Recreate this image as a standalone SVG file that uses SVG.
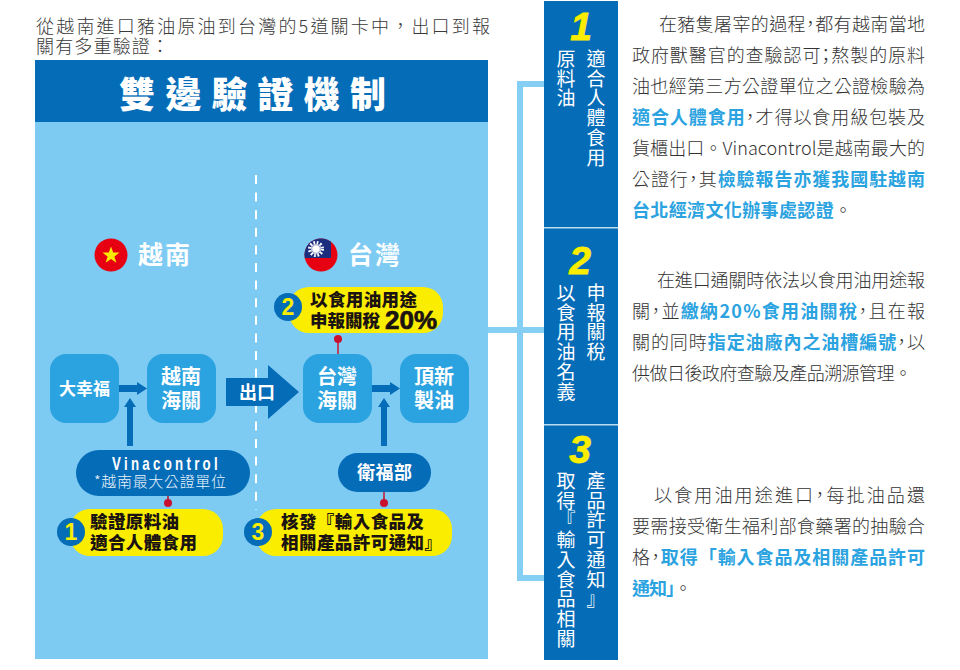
<svg xmlns="http://www.w3.org/2000/svg" width="960" height="670" viewBox="0 0 960 670">
<style>
text{font-family:"Noto Sans CJK TC","Noto Sans",sans-serif}
.lead{font-size:18px;font-weight:300;fill:#3a3a3a}
.body{font-size:18px;font-weight:300;fill:#333}
.hl{font-weight:700;fill:#2ba3e0}
.p{font-feature-settings:"palt"}
.jp{font-family:"Noto Sans CJK JP",sans-serif}
.w{fill:#fff;font-weight:700}
.k{fill:#1a1311;font-weight:900;font-size:17.5px}
.num{font-family:"Liberation Sans",sans-serif;font-weight:700;fill:#faed00;text-anchor:middle}
.big{font-family:"Liberation Sans",sans-serif;font-weight:700;font-style:italic;fill:#faed00;stroke:#faed00;stroke-width:.8;font-size:39px;text-anchor:middle}
.col{font-size:19px;fill:#fff;font-weight:400}
.node{fill:#2ba3e0}
.dark{fill:#056cb8}
.pill{fill:#faed00}
.pin{fill:#c8102e}
.pinl{stroke:#c8102e;stroke-width:1.5}
.arr{fill:#056cb8}
</style>
<defs>
<clipPath id="twc"><circle cx="321" cy="255" r="16.5"/></clipPath>
</defs>

<g id="lead">
<text class="lead" x="36" y="33" textLength="454">從越南進口豬油原油到台灣的5道關卡中，出口到報</text>
<text class="lead" x="36" y="53" textLength="133">關有多重驗證：</text>
</g>

<g id="panel">
<rect x="35" y="60" width="453" height="62" class="dark"/>
<rect x="35" y="122" width="453" height="537" fill="#7dcaf3"/>
<text class="w" x="119" y="108" font-size="36" textLength="267" style="font-weight:900">雙邊驗證機制</text>
<line x1="256" y1="175" x2="256" y2="510" stroke="#fff" stroke-width="2" stroke-dasharray="9 8.6"/>
</g>

<g id="vietnam">
<circle cx="111" cy="255" r="16.5" fill="#e60012"/>
<polygon points="111,246.5 113.2,252.6 119.6,252.6 114.4,256.5 116.4,262.8 111,259 105.6,262.8 107.6,256.5 102.4,252.6 108.8,252.6" fill="#faed00"/>
<text class="w" x="138" y="264" font-size="25" textLength="52">越南</text>
</g>

<g id="taiwan">
<g clip-path="url(#twc)">
<rect x="304" y="238" width="34" height="34" fill="#e60012"/>
<rect x="304" y="238" width="27" height="20" fill="#1d2d7e"/>
</g>
<circle cx="316" cy="249" r="6.500" fill="none" stroke="#fff" stroke-width="3" stroke-dasharray="1.700 1.700"/>
<circle cx="316" cy="249" r="5.200" fill="#fff"/>
<circle cx="316" cy="249" r="4.300" fill="none" stroke="#1d2d7e" stroke-width=".5"/>
<text class="w" x="348" y="264" font-size="25" textLength="52">台灣</text>
</g>

<g id="connectors">
<path d="M119 385h18v-3l10 6.500-10 6.500v-3h-18z" class="arr"/>
<path d="M127 446v-39h-3l6-9 6 9h-3v39z" class="arr"/>
<path d="M372 385h18v-3l10 6.500-10 6.500v-3h-18z" class="arr"/>
<path d="M381 446v-39h-3l6-9 6 9h-3v39z" class="arr"/>
<line x1="168" y1="496" x2="168" y2="503" class="pinl"/>
<circle cx="168" cy="503" r="4" class="pin"/>
<line x1="338" y1="339" x2="338" y2="354" class="pinl"/>
<circle cx="338" cy="339" r="4" class="pin"/>
<line x1="384" y1="492" x2="384" y2="503" class="pinl"/>
<circle cx="384" cy="503" r="4" class="pin"/>
<path d="M544 84H520V578H544M488 330H544" fill="none" stroke="#85cff5" stroke-width="6"/>
</g>

<g id="node-daxingfu">
<rect x="50" y="354" width="69" height="69" rx="16" class="node"/>
<text class="w" x="59" y="395" font-size="17" textLength="51">大幸福</text>
</g>
<g id="node-vn-customs">
<rect x="147" y="354" width="69" height="69" rx="16" class="node"/>
<text class="w" x="161" y="384" font-size="20" textLength="40">越南</text>
<text class="w" x="161" y="408" font-size="20" textLength="40">海關</text>
</g>
<g id="node-export">
<path d="M226 378H268V365L299 392 268 419V406H226z" class="dark"/>
<text class="w" x="239" y="399" font-size="18" textLength="36">出口</text>
</g>
<g id="node-tw-customs">
<rect x="303" y="354" width="69" height="69" rx="16" class="node"/>
<text class="w" x="317" y="384" font-size="20" textLength="40">台灣</text>
<text class="w" x="317" y="408" font-size="20" textLength="40">海關</text>
</g>
<g id="node-tingxin">
<rect x="400" y="354" width="69" height="69" rx="16" class="node"/>
<text class="w" x="414" y="384" font-size="20" textLength="40">頂新</text>
<text class="w" x="414" y="408" font-size="20" textLength="40">製油</text>
</g>
<g id="node-vinacontrol">
<rect x="76" y="450" width="174" height="46" rx="23" class="dark"/>
<text transform="translate(112 470) scale(.7 1)" font-size="19" textLength="151" fill="#fff" style="font-family:'Liberation Sans',sans-serif;font-weight:700">Vinacontrol</text>
<text x="94" y="487" font-size="15" textLength="132" fill="#e8f4fb" style="font-weight:300">*越南最大公證單位</text>
</g>
<g id="node-mohw">
<rect x="338" y="453" width="93" height="39" rx="19.500" class="dark"/>
<text class="w" x="357" y="479" font-size="18" textLength="55">衛福部</text>
</g>

<g id="note-1">
<rect x="70" y="509" width="153" height="47" rx="20" class="pill"/>
<circle cx="71" cy="532" r="14" class="dark"/>
<text class="num" x="71" y="540" font-size="23">1</text>
<text class="k" x="90" y="528" textLength="89">驗證原料油</text>
<text class="k" x="90" y="549" textLength="107">適合人體食用</text>
</g>
<g id="note-2">
<rect x="289" y="287" width="154" height="46" rx="20" class="pill"/>
<circle cx="288" cy="307" r="14" class="dark"/>
<text class="num" x="288" y="315" font-size="23">2</text>
<text class="k" x="310" y="306" textLength="107">以食用油用途</text>
<text class="k" x="310" y="327" textLength="70">申報關稅</text>
<text x="385" y="329" font-size="26" textLength="52" lengthAdjust="spacingAndGlyphs" fill="#1a1311" stroke="#1a1311" stroke-width=".7" style="font-family:'Liberation Sans',sans-serif;font-weight:700">20%</text>
</g>
<g id="note-3">
<rect x="256" y="509" width="196" height="47" rx="20" class="pill"/>
<circle cx="258" cy="532" r="14" class="dark"/>
<text class="num" x="258" y="540" font-size="23">3</text>
<text class="k" x="281" y="528" textLength="143">核發<tspan class="jp">『</tspan>輸入食品及</text>
<text class="k" x="281" y="549" textLength="161">相關產品許可通知<tspan class="jp">』</tspan></text>
</g>

<g id="side">
<rect x="544" y="1" width="74" height="659" class="dark"/>
<rect x="544" y="227" width="74" height="1.500" fill="#bcdcf0"/>
<rect x="544" y="424" width="74" height="1.500" fill="#bcdcf0"/>
</g>
<g id="step-1">
<text class="big" x="581" y="40">1</text>
<text class="col" x="586.500 586.500 586.500 586.500 586.500 586.500" y="66 85.700 105.400 125.100 144.800 164.500">適合人體食用</text>
<text class="col" x="556.500 556.500 556.500" y="66 85.700 105.400">原料油</text>
</g>
<g id="step-2">
<text class="big" x="580" y="274">2</text>
<text class="col" x="586.500 586.500 586.500 586.500" y="300 319.700 339.400 359.100">申報關稅</text>
<text class="col" x="556.500 556.500 556.500 556.500 556.500 556.500" y="300 319.700 339.400 359.100 378.800 398.500">以食用油名義</text>
</g>
<g id="step-3">
<text class="big" x="580" y="463">3</text>
<text class="col" x="586.500 586.500 586.500 586.500 586.500 586.500 586.500" y="488 507.700 527.400 547.100 566.800 586.500 606.200">產品許可通知<tspan class="jp">』</tspan></text>
<text class="col" x="556.500 556.500 556.500 556.500 556.500 556.500 556.500 556.500 556.500" y="488 507.700 527.400 547.100 566.800 586.500 606.200 625.900 645.600">取得<tspan class="jp">『</tspan>輸入食品相關</text>
</g>

<g id="para-1">
<text class="body" x="659" y="31" textLength="266">在豬隻屠宰的過程<tspan class="p">，</tspan>都有越南當地</text>
<text class="body" x="632" y="62" textLength="293">政府獸醫官的查驗認可<tspan class="p">；</tspan>熬製的原料</text>
<text class="body" x="632" y="93" textLength="293">油也經第三方公證單位之公證檢驗為</text>
<text class="body" x="632" y="124" textLength="293"><tspan class="hl">適合人體食用</tspan><tspan class="p">，</tspan>才得以食用級包裝及</text>
<text class="body" x="632" y="155" textLength="293">貨櫃出口。Vinacontrol是越南最大的</text>
<text class="body" x="632" y="186" textLength="293">公證行<tspan class="p">，</tspan>其<tspan class="hl">檢驗報告亦獲我國駐越南</tspan></text>
<text class="body" x="632" y="217" textLength="220"><tspan class="hl">台北經濟文化辦事處認證</tspan>。</text>
</g>
<g id="para-2">
<text class="body" x="657" y="287" textLength="268">在進口通關時依法以食用油用途報</text>
<text class="body" x="632" y="318" textLength="293">關<tspan class="p">，</tspan>並<tspan class="hl">繳納20%食用油關稅</tspan><tspan class="p">，</tspan>且在報</text>
<text class="body" x="632" y="349" textLength="293">關的同時<tspan class="hl">指定油廠內之油槽編號</tspan><tspan class="p">，</tspan>以</text>
<text class="body" x="632" y="380" textLength="280">供做日後政府查驗及產品溯源管理。</text>
</g>
<g id="para-3">
<text class="body" x="654" y="502" textLength="271">以食用油用途進口<tspan class="p">，</tspan>每批油品還</text>
<text class="body" x="632" y="533" textLength="293">要需接受衛生福利部食藥署的抽驗合</text>
<text class="body" x="632" y="564" textLength="293">格<tspan class="p">，</tspan><tspan class="hl">取得<tspan class="jp">「</tspan>輸入食品及相關產品許可</tspan></text>
<text class="body" x="632" y="595" textLength="60"><tspan class="hl">通知<tspan class="jp">」</tspan></tspan>。</text>
</g>
</svg>
